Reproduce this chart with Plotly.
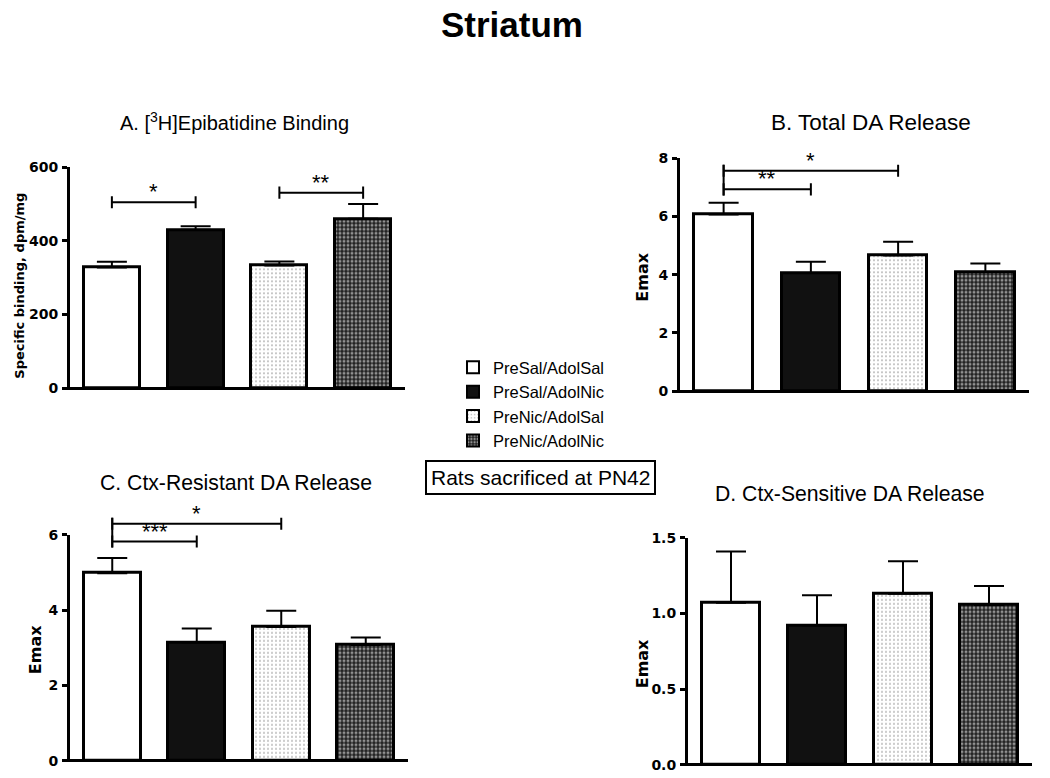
import plotly.graph_objects as go

W, H = 1050, 778

groups = ["PreSal/AdolSal", "PreSal/AdolNic", "PreNic/AdolSal", "PreNic/AdolNic"]

# Panel A: [3H]Epibatidine binding
a_mean = [328, 430, 333, 460]
a_err = [15, 10, 11, 40]
a_sig = [(0, 1, 505, "*"), (2, 3, 531, "**")]

# Panel B: Total DA release (Emax)
b_mean = [6.07, 4.06, 4.66, 4.09]
b_err = [0.40, 0.38, 0.47, 0.29]
b_sig = [(0, 1, 6.93, "**"), (0, 2, 7.57, "*")]

# Panel C: Ctx-resistant DA release (Emax)
c_mean = [4.98, 3.14, 3.55, 3.07]
c_err = [0.40, 0.37, 0.43, 0.20]
c_sig = [(0, 1, 5.82, "***"), (0, 2, 6.29, "*")]

# Panel D: Ctx-sensitive DA release (Emax)
d_mean = [1.07, 0.92, 1.13, 1.056]
d_err = [0.34, 0.20, 0.215, 0.125]
d_sig = []

fills = [
    dict(color="white"),
    dict(color="#111111"),
    dict(color="white", pattern=dict(shape=".", fgcolor="#333333", bgcolor="white", size=4, solidity=0.15)),
    dict(color="#333333", pattern=dict(shape=".", fgcolor="white", bgcolor="#222222", size=4, solidity=0.45)),
]

FONT_BOLD = "DejaVu Sans"
FONT_REG = "Liberation Sans, Arial"


def px(x):
    return x / W


def py(y):
    # page-pixel y (from top) -> paper fraction
    return 1 - ((y - 8.4) / 0.978) / H


# panel pixel boxes: (x_left, x_right, y_top, y_bottom)
panels = [
    dict(m=a_mean, e=a_err, s=a_sig, yr=[0, 600], dt=200, fmt="d", box=(70, 405, 167, 387),
         title="A. [<sup>3</sup>H]Epibatidine Binding", tpos=(234, 121), tsize=20,
         ytitle="Specific binding, dpm/mg", ytpos=(20, 285), ytsize=13),
    dict(m=b_mean, e=b_err, s=b_sig, yr=[0, 8], dt=2, fmt="d", box=(680, 1029, 158, 390),
         title="B. Total DA Release", tpos=(871, 122), tsize=22.5,
         ytitle="Emax", ytpos=(643, 277), ytsize=16),
    dict(m=c_mean, e=c_err, s=c_sig, yr=[0, 6], dt=2, fmt="d", box=(70, 408, 533, 758),
         title="C. Ctx-Resistant DA Release", tpos=(236, 481), tsize=21.2,
         ytitle="Emax", ytpos=(35, 648), ytsize=16),
    dict(m=d_mean, e=d_err, s=d_sig, yr=[0, 1.5], dt=0.5, fmt=".1f", box=(688, 1032, 536, 762),
         title="D. Ctx-Sensitive DA Release", tpos=(850, 492), tsize=21.2,
         ytitle="Emax", ytpos=(642, 662), ytsize=16),
]

EXT = 50   # extra pixels above each panel for significance brackets
LOW = 1.5  # pixels below zero so the zero line covers the bar bottoms

fig = go.Figure()
annotations = []
xpos = [0, 1, 2, 3]

for k, p in enumerate(panels):
    n = "" if k == 0 else str(k + 1)
    nb = str(k + 5)
    xa, ya, yb_ax = "x" + n, "y" + n, "y" + nb
    xl, xr, yt, yb = p["box"]
    upp = (p["yr"][1] - p["yr"][0]) / (yb - yt)
    for i in range(4):
        fig.add_trace(go.Bar(
            x=[xpos[i]], y=[p["m"][i]], xaxis=xa, yaxis=ya, width=0.67,
            name=groups[i], showlegend=(k == 0), legendgroup=groups[i],
            marker=dict(line=dict(color="black", width=3), **fills[i]),
            error_y=dict(type="data", symmetric=False, array=[p["e"][i]], arrayminus=[0],
                         color="black", thickness=2, width=15),
            hoverinfo="skip",
        ))
    # significance brackets (drawn on an invisible, taller axis with identical scale)
    d = 6 * upp
    for (i, j, yv, lab) in p["s"]:
        fig.add_trace(go.Scatter(
            x=[xpos[i], xpos[i], None, xpos[i], xpos[j], None, xpos[j], xpos[j]],
            y=[yv - d, yv + d, None, yv, yv, None, yv - d, yv + d],
            mode="lines", line=dict(color="black", width=2), xaxis=xa, yaxis=yb_ax,
            showlegend=False, hoverinfo="skip"))
        annotations.append(dict(x=(xpos[i] + xpos[j]) / 2, y=yv, xref=xa, yref=yb_ax, text=lab,
                                showarrow=False, yanchor="bottom", yshift=-4,
                                font=dict(family=FONT_REG, size=22, color="black")))
    starts = {}
    for (i, j, yv, lab) in p["s"]:
        starts.setdefault(i, []).append(yv)
    for i, ys in starts.items():
        if len(ys) > 1:
            fig.add_trace(go.Scatter(x=[xpos[i], xpos[i]], y=[min(ys) - d, max(ys) + d],
                                     mode="lines", line=dict(color="black", width=2),
                                     xaxis=xa, yaxis=yb_ax, showlegend=False, hoverinfo="skip"))
    y0, y1 = py(yb + LOW), py(yt)
    y1_ext = py(yt - EXT)
    rmin = p["yr"][0] - LOW * upp
    fig.update_layout({
        "xaxis" + n: dict(domain=[px(xl), px(xr)], range=[-0.5, 3.5], showticklabels=False, ticks="",
                          showline=False, showgrid=False, zeroline=False, anchor=ya, fixedrange=True),
        "yaxis" + n: dict(domain=[y0, y1], range=[rmin, p["yr"][1]], dtick=p["dt"], tick0=0,
                          tickformat=p["fmt"],
                          showline=True, linecolor="black", linewidth=3, ticks="outside",
                          ticklen=5, tickwidth=3, tickcolor="black", showgrid=False,
                          zeroline=True, zerolinecolor="black", zerolinewidth=3,
                          layer="above traces",
                          anchor=xa, ticklabelstandoff=1, fixedrange=True,
                          tickfont=dict(family=FONT_BOLD, size=14, color="black", weight="bold")),
        "yaxis" + nb: dict(domain=[y0, y1_ext],
                           range=[rmin, rmin + (p["yr"][1] - rmin) * (y1_ext - y0) / (y1 - y0)],
                           visible=False, anchor=xa, showgrid=False, zeroline=False, fixedrange=True),
    })
    annotations.append(dict(x=px(p["tpos"][0]), y=py(p["tpos"][1]), xref="paper", yref="paper",
                            text=p["title"], showarrow=False, xanchor="center", yanchor="middle",
                            font=dict(family=FONT_REG, size=p["tsize"], color="black")))
    annotations.append(dict(x=px(p["ytpos"][0]), y=py(p["ytpos"][1]), xref="paper", yref="paper",
                            text=p["ytitle"], showarrow=False, textangle=-90,
                            xanchor="center", yanchor="middle",
                            font=dict(family=FONT_BOLD, size=p["ytsize"], color="black", weight="bold")))

annotations.append(dict(x=px(512), y=py(25), xref="paper", yref="paper", text="<b>Striatum</b>",
                        showarrow=False, xanchor="center", yanchor="middle",
                        font=dict(family=FONT_REG, size=35, color="black")))
annotations.append(dict(x=px(540), y=py(476), xref="paper", yref="paper",
                        text="Rats sacrificed at PN42", showarrow=False, xanchor="center",
                        yanchor="middle", bordercolor="black", borderwidth=2, borderpad=4,
                        font=dict(family=FONT_REG, size=21, color="black")))

fig.update_layout(
    width=W, height=H, margin=dict(l=0, r=0, t=0, b=0),
    paper_bgcolor="white", plot_bgcolor="rgba(0,0,0,0)", bargap=0,
    annotations=annotations,
    legend=dict(x=px(453), y=py(349), xanchor="left", yanchor="top",
                font=dict(family=FONT_REG, size=16.5, color="black"),
                bgcolor="rgba(0,0,0,0)", tracegroupgap=0, itemsizing="constant"),
)

fig.write_html("out.html", config={"displayModeBar": False},
               post_script="document.body.style.margin='0';")
